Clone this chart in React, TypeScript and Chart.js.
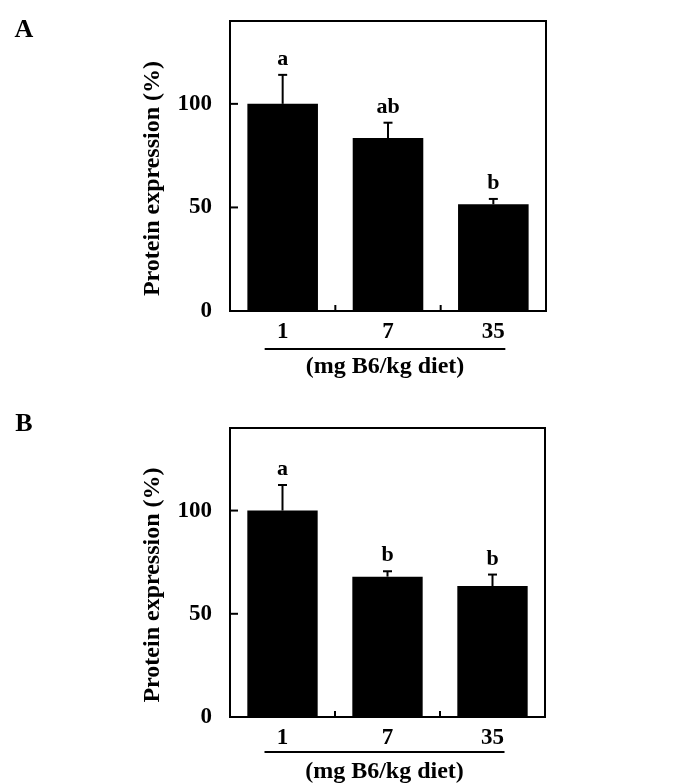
import React, { useEffect, useRef } from "react";
import { Chart, registerables } from "chart.js";

Chart.register(...registerables);

const categories = ["1", "7", "35"];
const yTicks = [0, 50, 100];
const yMin = 0;
const yMax = 140;
const panelAValues = [100, 83.5, 51.5];
const panelAErrors = [14, 7.4, 2.6];
const panelALetters = ["a", "ab", "b"];
const panelBValues = [100, 68, 63.4];
const panelBErrors = [12.4, 2.6, 5.6];
const panelBLetters = ["a", "b", "b"];
const yTitle = "Protein expression (%)";
const xTitle = "(mg B6/kg diet)";

const FONT = '"Liberation Serif", "Times New Roman", serif';

type PanelProps = {
  label: string;
  values: number[];
  errors: number[];
  letters: string[];
  top: number;
  height: number;
  areaTop: number;
  areaBottom: number;
  areaRight: number;
  underlineOffset: number;
  titleOffset: number;
  labelY: number;
};

function Panel(p: PanelProps) {
  const ref = useRef<HTMLCanvasElement | null>(null);
  useEffect(() => {
    const canvas = ref.current;
    if (!canvas) return;
    const decor = {
      id: "decor",
      afterDatasetsDraw(chart: any) {
        const { ctx, chartArea: ca, scales } = chart;
        const x = scales.x;
        const y = scales.y;
        ctx.save();
        ctx.strokeStyle = "#000";
        ctx.fillStyle = "#000";
        ctx.lineWidth = 2;
        const line = (x1: number, y1: number, x2: number, y2: number) => {
          ctx.beginPath();
          ctx.moveTo(x1, y1);
          ctx.lineTo(x2, y2);
          ctx.stroke();
        };
        // error bars and letters
        p.values.forEach((v, i) => {
          const cx = x.getPixelForValue(i);
          const yTop = y.getPixelForValue(v);
          const yErr = y.getPixelForValue(v + p.errors[i]);
          line(cx, yTop, cx, yErr);
          line(cx - 4.5, yErr, cx + 4.5, yErr);
          ctx.font = `bold 22px ${FONT}`;
          ctx.textAlign = "center";
          ctx.textBaseline = "alphabetic";
          ctx.fillText(p.letters[i], cx, yErr - 10);
        });
        // frame
        ctx.strokeRect(ca.left, ca.top, ca.right - ca.left, ca.bottom - ca.top);
        // inward y ticks
        yTicks.forEach((t) => {
          const py = y.getPixelForValue(t);
          line(ca.left, py, ca.left + 8, py);
        });
        // category boundary ticks
        for (let i = 0; i < categories.length - 1; i++) {
          const px = (x.getPixelForValue(i) + x.getPixelForValue(i + 1)) / 2;
          line(px, ca.bottom, px, ca.bottom - 6);
        }
        // underline
        const ux1 = x.getPixelForValue(0) - 18;
        const ux2 = x.getPixelForValue(categories.length - 1) + 12;
        const uy = ca.bottom + p.underlineOffset;
        line(ux1, uy, ux2, uy);
        // x title
        ctx.font = `bold 24px ${FONT}`;
        ctx.textAlign = "center";
        ctx.textBaseline = "middle";
        ctx.fillText(xTitle, (ux1 + ux2) / 2, ca.bottom + p.titleOffset);
        // y title
        ctx.save();
        ctx.translate(153, (ca.top + ca.bottom) / 2 + 12.5);
        ctx.rotate(-Math.PI / 2);
        ctx.fillText(yTitle, 0, 0);
        ctx.restore();
        // panel label
        ctx.font = `bold 26px ${FONT}`;
        ctx.textAlign = "center";
        ctx.fillText(p.label, 24, p.labelY);
        ctx.restore();
      },
    };
    const chart = new Chart(canvas, {
      type: "bar",
      data: {
        labels: categories,
        datasets: [
          {
            data: p.values,
            backgroundColor: "#000",
            borderWidth: 0,
            categoryPercentage: 1,
            barPercentage: 0.67,
          },
        ],
      },
      options: {
        animation: false,
        responsive: false,
        devicePixelRatio: 1,
        layout: {
          padding: { left: 0, right: 688 - p.areaRight, top: p.areaTop, bottom: 0 },
        },
        plugins: {
          legend: { display: false },
          tooltip: { enabled: false },
          title: { display: false },
        },
        scales: {
          x: {
            grid: { display: false, drawTicks: false },
            border: { display: false },
            ticks: {
              color: "#000",
              padding: 7,
              font: { family: FONT, size: 23, weight: "bold" },
            },
            afterFit(scale: any) {
              scale.height = p.height - p.areaBottom;
              scale.paddingLeft = 0;
              scale.paddingRight = 0;
            },
          },
          y: {
            min: yMin,
            max: yMax,
            grid: { display: false, drawTicks: false },
            border: { display: false },
            ticks: {
              color: "#000",
              padding: 18,
              font: { family: FONT, size: 23, weight: "bold" },
            },
            afterBuildTicks(scale: any) {
              scale.ticks = yTicks.map((v) => ({ value: v }));
            },
            afterFit(scale: any) {
              scale.width = 230;
              scale.paddingTop = 0;
              scale.paddingBottom = 0;
            },
          },
        },
      },
      plugins: [decor],
    });
    return () => chart.destroy();
  }, []);
  return (
    <div style={{ position: "absolute", left: 0, top: p.top, width: 688, height: p.height }}>
      <canvas ref={ref} width={688} height={p.height} style={{ width: 688, height: p.height, display: "block" }} />
    </div>
  );
}

export default function App() {
  return (
    <div style={{ position: "absolute", left: 0, top: 0, width: 688, height: 783, background: "#fff" }}>
      <Panel
        label="A"
        values={panelAValues}
        errors={panelAErrors}
        letters={panelALetters}
        top={0}
        height={390}
        areaTop={21}
        areaBottom={311}
        areaRight={546}
        underlineOffset={38}
        titleOffset={56}
        labelY={30}
      />
      <Panel
        label="B"
        values={panelBValues}
        errors={panelBErrors}
        letters={panelBLetters}
        top={390}
        height={393}
        areaTop={38}
        areaBottom={327}
        areaRight={545}
        underlineOffset={35}
        titleOffset={55}
        labelY={34}
      />
    </div>
  );
}
